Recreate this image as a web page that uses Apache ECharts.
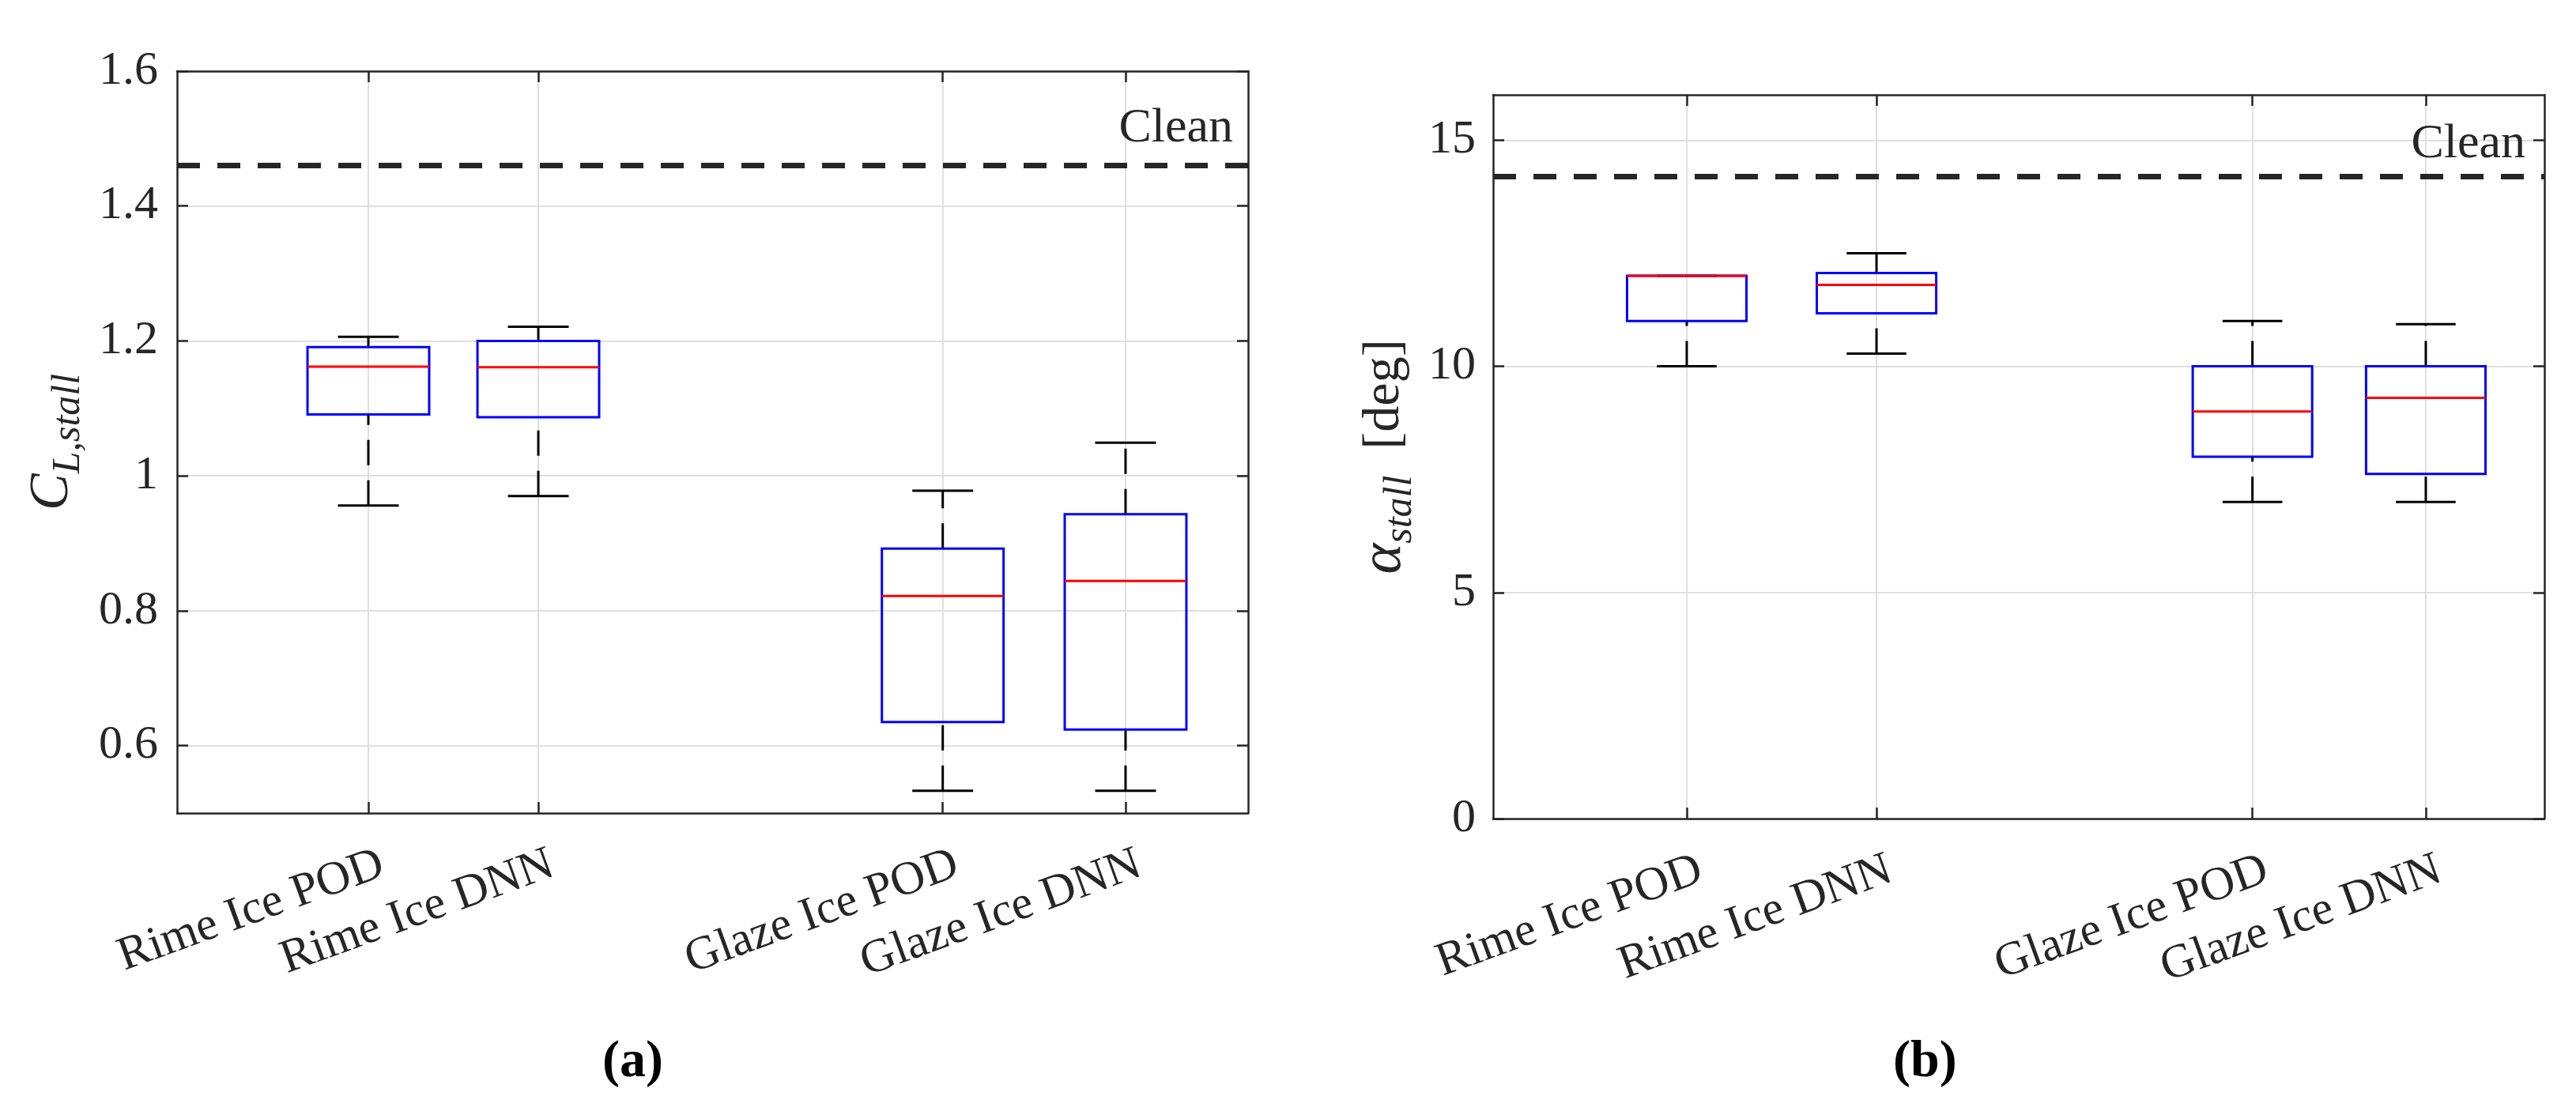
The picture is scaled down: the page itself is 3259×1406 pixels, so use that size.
<!DOCTYPE html>
<html>
<head>
<meta charset="utf-8">
<title>Stall lift coefficient and stall angle</title>
<script src="https://cdn.jsdelivr.net/npm/echarts@6/dist/echarts.min.js"></script>
<style>
  html, body { margin: 0; padding: 0; background: #fff; }
  #main { width: 3259px; height: 1406px; }
</style>
</head>
<body>
<div id="main"></div>
<script>
// box labels
var categories = ['Rime Ice POD', 'Rime Ice DNN', 'Glaze Ice POD', 'Glaze Ice DNN'];
// where each box sits on the x axis (axis runs 0..10)
var positionsA = [1.786, 3.373, 7.149, 8.856];
var positionsB = [1.842, 3.647, 7.223, 8.872];
// [min, q1, median, q3, max]
var clStall = [
  [0.956, 1.091, 1.162, 1.191, 1.206],
  [0.970, 1.087, 1.161, 1.200, 1.221],
  [0.533, 0.635, 0.822, 0.892, 0.978],
  [0.533, 0.624, 0.844, 0.943, 1.049]
];
var alphaStall = [
  [10.00, 11.00, 12.00, 12.00, 12.00],
  [10.28, 11.17, 11.80, 12.06, 12.50],
  [7.00, 8.00, 9.00, 10.00, 11.00],
  [7.00, 7.62, 9.30, 10.00, 10.93]
];
// clean airfoil reference
var cleanCL = 1.464;
var cleanAlpha = 14.19;
// y tick values
var ticksCL = [0.6, 0.8, 1, 1.2, 1.4, 1.6];
var ticksAlpha = [0, 5, 10, 15];

var FONT = 'Liberation Serif';
var INK = '#262626';
var BOX_W = 1.136; // box width in x units

function renderBox(params, api) {
  var x = api.value(0);
  var lo = api.coord([x, api.value(1)]);
  var q1 = api.coord([x, api.value(2)]);
  var md = api.coord([x, api.value(3)]);
  var q3 = api.coord([x, api.value(4)]);
  var hi = api.coord([x, api.value(5)]);
  var half = api.size([BOX_W, 0])[0] / 2;
  var cap = half / 2;
  var cx = lo[0];
  var whisker = { stroke: '#000', lineWidth: 3, lineDash: [32, 19], fill: null };
  var solid = { stroke: '#000', lineWidth: 3, fill: null };
  var kids = [];
  // whiskers go from low to high, like matlab draws them
  if (lo[1] - q1[1] > 1) {
    kids.push({ type: 'line', shape: { x1: cx, y1: lo[1], x2: cx, y2: q1[1] }, style: whisker });
  }
  if (q3[1] - hi[1] > 1) {
    kids.push({ type: 'line', shape: { x1: cx, y1: q3[1], x2: cx, y2: hi[1] }, style: whisker });
  }
  kids.push({ type: 'line', shape: { x1: cx - cap, y1: lo[1], x2: cx + cap, y2: lo[1] }, style: solid });
  kids.push({ type: 'line', shape: { x1: cx - cap, y1: hi[1], x2: cx + cap, y2: hi[1] }, style: solid });
  kids.push({
    type: 'rect',
    shape: { x: cx - half, y: q3[1], width: half * 2, height: q1[1] - q3[1] },
    style: { stroke: '#0000ff', lineWidth: 3, fill: null }
  });
  kids.push({ type: 'line', shape: { x1: cx - half, y1: md[1], x2: cx + half, y2: md[1] }, style: { stroke: '#ff0000', lineWidth: 3 } });
  return { type: 'group', children: kids };
}

function nearestName(positions) {
  return function (v) {
    var best = 0;
    for (var i = 1; i < positions.length; i++) {
      if (Math.abs(positions[i] - v) < Math.abs(positions[best] - v)) best = i;
    }
    return categories[best];
  };
}

function xAxes(gridIndex, positions) {
  return [
    {
      gridIndex: gridIndex, type: 'value', min: 0, max: 10, position: 'bottom',
      axisLine: { show: true, onZero: false, lineStyle: { color: INK, width: 2.5 } },
      axisTick: { show: true, inside: true, length: 14, customValues: positions, lineStyle: { color: INK, width: 2.5 } },
      axisLabel: {
        customValues: positions, formatter: nearestName(positions), rotate: 20, margin: 70,
        padding: [0, -19, 0, 0],
        fontFamily: FONT, fontSize: 60, color: INK
      },
      splitLine: { show: true, lineStyle: { color: '#dfdfdf', width: 2 } }
    },
    {
      gridIndex: gridIndex, type: 'value', min: 0, max: 10, position: 'top',
      axisLine: { show: true, onZero: false, lineStyle: { color: INK, width: 2.5 } },
      axisTick: { show: true, inside: true, length: 14, customValues: positions, lineStyle: { color: INK, width: 2.5 } },
      axisLabel: { show: false },
      splitLine: { show: false }
    }
  ];
}

function yAxes(gridIndex, lo, hi, ticks, name, rich, gap, labelMargin) {
  return [
    {
      gridIndex: gridIndex, type: 'value', min: lo, max: hi, position: 'left',
      name: name, nameLocation: 'middle', nameRotate: 90, nameGap: gap,
      nameTextStyle: { rich: rich },
      axisLine: { show: true, onZero: false, lineStyle: { color: INK, width: 2.5 } },
      axisTick: { show: true, inside: true, length: 14, customValues: ticks, lineStyle: { color: INK, width: 2.5 } },
      axisLabel: {
        customValues: ticks, margin: labelMargin,
        formatter: function (v) { return String(v); },
        fontFamily: FONT, fontSize: 60, color: INK
      },
      splitLine: { show: true, lineStyle: { color: '#dfdfdf', width: 2 } }
    },
    {
      gridIndex: gridIndex, type: 'value', min: lo, max: hi, position: 'right',
      axisLine: { show: true, onZero: false, lineStyle: { color: INK, width: 2.5 } },
      axisTick: { show: true, inside: true, length: 14, customValues: ticks, lineStyle: { color: INK, width: 2.5 } },
      axisLabel: { show: false },
      splitLine: { show: false }
    }
  ];
}

function cleanLine(value, distance) {
  return {
    symbol: 'none', silent: true, animation: false,
    lineStyle: { color: INK, width: 7, type: [29, 22] },
    label: {
      show: true, position: 'insideEndTop', distance: distance, formatter: 'Clean',
      fontFamily: FONT, fontSize: 62, color: INK
    },
    data: [{ yAxis: value }]
  };
}

var richA = {
  c: { fontFamily: FONT, fontStyle: 'italic', fontSize: 70, lineHeight: 90, color: INK },
  s: { fontFamily: FONT, fontStyle: 'italic', fontSize: 50, lineHeight: 50, verticalAlign: 'bottom', color: INK }
};
var richB = {
  c: { fontFamily: FONT, fontStyle: 'italic', fontSize: 74, lineHeight: 90, color: INK },
  s: { fontFamily: FONT, fontStyle: 'italic', fontSize: 50, lineHeight: 50, verticalAlign: 'bottom', color: INK },
  u: { fontFamily: FONT, fontSize: 66, lineHeight: 90, color: INK }
};

var chart = echarts.init(document.getElementById('main'));
var option = {
  backgroundColor: '#fff',
  animation: false,
  grid: [
    { left: 224, top: 90, width: 1355, height: 939, outerBoundsMode: 'none' },
    { left: 1889, top: 120, width: 1330, height: 916, outerBoundsMode: 'none' }
  ],
  xAxis: xAxes(0, positionsA).concat(xAxes(1, positionsB)),
  yAxis: yAxes(0, 0.5, 1.6, ticksCL, '{c|C}{s|L,stall}', richA, 112, 24)
    .concat(yAxes(1, 0, 16, ticksAlpha, '{c|α}{s|stall}{u|  [deg]}', richB, 92, 22)),
  series: [
    {
      type: 'custom', xAxisIndex: 0, yAxisIndex: 0,
      renderItem: renderBox,
      encode: { x: 0, y: [1, 2, 3, 4, 5] },
      data: clStall.map(function (d, i) { return [positionsA[i]].concat(d); }),
      markLine: cleanLine(cleanCL, [19, 16])
    },
    {
      type: 'custom', xAxisIndex: 2, yAxisIndex: 2,
      renderItem: renderBox,
      encode: { x: 0, y: [1, 2, 3, 4, 5] },
      data: alphaStall.map(function (d, i) { return [positionsB[i]].concat(d); }),
      markLine: cleanLine(cleanAlpha, [24, 10])
    }
  ],
  graphic: [
    { type: 'text', left: 807 - 45, top: 1312, style: { text: '(a)', fontFamily: FONT, fontWeight: 'bold', fontSize: 66, fill: '#000' } },
    { type: 'text', left: 2440 - 45, top: 1312, style: { text: '(b)', fontFamily: FONT, fontWeight: 'bold', fontSize: 66, fill: '#000' } }
  ]
};
chart.setOption(option);
</script>
</body>
</html>
